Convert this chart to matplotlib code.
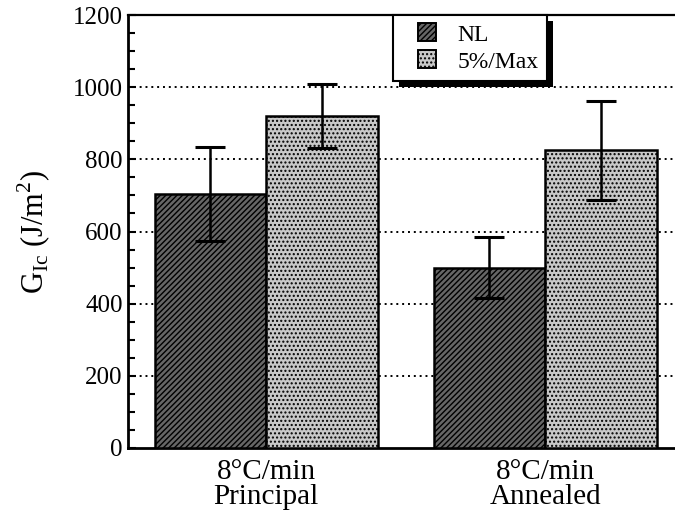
import matplotlib
matplotlib.use("Agg")
import matplotlib.pyplot as plt
import numpy as np
from matplotlib.patches import Patch, Rectangle
from matplotlib.legend_handler import HandlerPatch
from matplotlib.transforms import IdentityTransform
from matplotlib.ticker import MultipleLocator

plt.rcParams["font.family"] = ["Liberation Serif", "DejaVu Serif"]
plt.rcParams["mathtext.fontset"] = "custom"
plt.rcParams["mathtext.rm"] = "Liberation Serif"
plt.rcParams["hatch.linewidth"] = 1.0

# Fracture toughness for the two cooling conditions
groups = ["8°C/min\nPrincipal", "8°C/min\nAnnealed"]
series = ["NL", "5%/Max"]
nl_mean = [705, 500]
nl_err = [130, 85]
max_mean = [920, 825]
max_err = [88, 138]

nl_style = dict(facecolor="#666666", edgecolor="black", hatch="//////")
max_style = dict(facecolor="#c8c8c8", edgecolor="black", hatch="....")

x = np.arange(len(groups))
width = 0.40

fig = plt.figure(figsize=(6.75, 5.22), dpi=100)
ax = fig.add_axes([0.19, 0.142, 0.81, 0.829])

err_kw = dict(ecolor="black", elinewidth=1.8, capsize=11, capthick=2.2)
ax.bar(x - width / 2, nl_mean, width, yerr=nl_err, linewidth=1.8,
       error_kw=err_kw, zorder=3, **nl_style)
ax.bar(x + width / 2, max_mean, width, yerr=max_err, linewidth=1.8,
       error_kw=err_kw, zorder=3, **max_style)

# dotted reference lines at the major ticks
for yv in range(200, 1200, 200):
    ax.axhline(yv, color="black", linewidth=1.4, linestyle=(0, (1.0, 2.0)),
               zorder=1)

ax.set_ylim(0, 1200)
ax.set_xlim(-0.495, 1.466)
ax.yaxis.set_major_locator(MultipleLocator(200))
ax.yaxis.set_minor_locator(MultipleLocator(50))
ax.tick_params(axis="y", which="both", direction="in", width=1.5,
               labelsize=18, pad=4)
ax.tick_params(axis="y", which="major", length=6)
ax.tick_params(axis="y", which="minor", length=5)
ax.set_xticks(x)
ax.set_xticklabels(groups, fontsize=21, linespacing=0.95)
ax.tick_params(axis="x", length=0, pad=8)

ax.spines["right"].set_visible(False)
ax.spines["left"].set_linewidth(2.0)
ax.spines["bottom"].set_linewidth(2.0)
ax.spines["top"].set_linewidth(1.6)

ax.set_ylabel(r"G$_{\mathrm{Ic}}$ (J/m$^{\mathrm{2}}$)", fontsize=22,
              labelpad=14)


# square swatch pushed to the right end of the handle slot
def square_swatch(legend, orig_handle, xdescent, ydescent, width, height,
                  fontsize):
    return Rectangle((width - height - xdescent, -ydescent), height, height)


handles = [Patch(linewidth=1.4, **nl_style), Patch(linewidth=1.4, **max_style)]
leg = ax.legend(handles, series, loc="upper left",
                bbox_to_anchor=(0.485, 1.0), borderaxespad=0, fontsize=17,
                frameon=True, fancybox=False, framealpha=1, edgecolor="black",
                handlelength=1.45, handleheight=0.8, handletextpad=0.9,
                labelspacing=0.2, borderpad=0.35,
                handler_map={Patch: HandlerPatch(patch_func=square_swatch)})
leg.get_frame().set_linewidth(1.5)
leg.set_zorder(6)

# solid drop shadow under the legend box
fig.canvas.draw()
bb = leg.get_window_extent()
off = 6
ax.add_patch(Rectangle((bb.x0 + off, bb.y0 - off), bb.width, bb.height,
                       transform=IdentityTransform(), facecolor="black",
                       edgecolor="none", zorder=5.5, clip_on=False))

fig.savefig("out.png", dpi=100)
